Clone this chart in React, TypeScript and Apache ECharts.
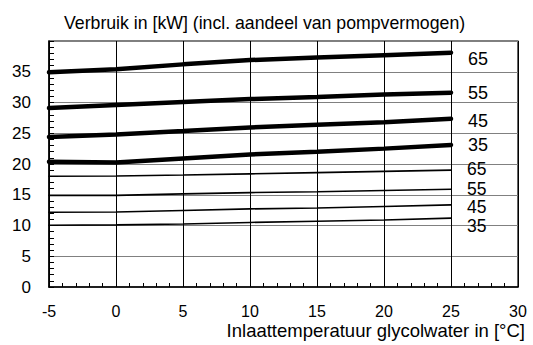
import React, { useEffect, useRef } from "react";
import * as echarts from "echarts";

const xValues = [-5, 0, 5, 10, 15, 20, 25];
const thick65 = [34.9, 35.4, 36.2, 36.9, 37.3, 37.7, 38.1];
const thick55 = [29.1, 29.6, 30.1, 30.55, 30.9, 31.3, 31.6];
const thick45 = [24.4, 24.8, 25.35, 25.95, 26.4, 26.8, 27.35];
const thick35 = [20.35, 20.25, 20.9, 21.55, 22.0, 22.5, 23.1];
const thin65 = [18.0, 18.05, 18.2, 18.4, 18.6, 18.8, 19.0];
const thin55 = [14.9, 14.9, 15.15, 15.35, 15.5, 15.7, 15.9];
const thin45 = [12.15, 12.2, 12.45, 12.7, 12.85, 13.1, 13.35];
const thin35 = [10.05, 10.1, 10.25, 10.5, 10.7, 10.9, 11.2];
const seriesLabels = ["65", "55", "45", "35", "65", "55", "45", "35"];
const yTicks = [0, 5, 10, 15, 20, 25, 30, 35, 40];
const titleText = "Verbruik in [kW] (incl. aandeel van pompvermogen)";
const xName = "Inlaattemperatuur glycolwater in [°C]";

const FONT = "'Liberation Sans', Arial, Helvetica, sans-serif";

export default function App() {
  const ref = useRef<HTMLDivElement>(null);
  useEffect(() => {
    document.body.style.margin = "0";
    if (!ref.current) return;
    const chart = echarts.init(ref.current, null, { renderer: "svg" });
    const all = [thick65, thick55, thick45, thick35, thin65, thin55, thin45, thin35];
    const labelOffsets = [6, 0, 2, 0, -1, -0.5, 2.3, 8];
    const series = all.map((vals, i) => {
      const thick = i < 4;
      return {
        type: "line",
        name: seriesLabels[i] + (thick ? "t" : "n"),
        data: xValues.map((x, j) => [x, vals[j]]),
        showSymbol: false,
        symbol: "none",
        lineStyle: {
          color: "#000",
          width: thick ? 4.5 : 1.6,
          cap: "round",
        },
        endLabel: {
          show: true,
          formatter: () => seriesLabels[i],
          distance: thick ? 17 : 16,
          offset: [0, labelOffsets[i]],
          color: "#000",
          fontFamily: FONT,
          fontSize: thick ? 18 : 17.5,
        },
        z: thick ? 4 : 3,
      };
    });
    chart.setOption({
      animation: false,
      textStyle: { fontFamily: FONT },
      title: {
        text: titleText,
        left: 59,
        top: 9,
        textStyle: { fontFamily: FONT, fontSize: 17.7, fontWeight: "normal", color: "#000" },
      },
      graphic: [
        {
          type: "text",
          right: 8,
          top: 320.5,
          style: {
            text: xName,
            fontFamily: FONT,
            fontSize: 18.5,
            fill: "#000",
          },
        },
      ],
      grid: {
        left: 49,
        right: 15,
        top: 41,
        bottom: 58,
        show: true,
        borderColor: "#000",
        borderWidth: 1.2,
        backgroundColor: "transparent",
      },
      xAxis: {
        type: "value",
        min: -5,
        max: 30,
        interval: 5,
        axisLine: { show: true, onZero: false, lineStyle: { color: "#000", width: 1.5 } },
        axisTick: { show: true, inside: true, length: 4, lineStyle: { color: "#000" } },
        minorTick: { show: true, splitNumber: 5, length: 4, lineStyle: { color: "#000", width: 1 } },
        splitLine: { show: true, lineStyle: { color: "#000", width: 1 } },
        axisLabel: { color: "#000", fontSize: 16, fontFamily: FONT, margin: 16.5 },
      },
      yAxis: {
        type: "value",
        min: yTicks[0],
        max: yTicks[yTicks.length - 1],
        interval: 5,
        axisLine: { show: true, onZero: false, lineStyle: { color: "#000", width: 1.5 } },
        axisTick: { show: true, inside: true, length: 5, lineStyle: { color: "#000" } },
        minorTick: { show: true, splitNumber: 5, length: 5, lineStyle: { color: "#000", width: 1 } },
        splitLine: { show: true, lineStyle: { color: "#808080", width: 1 } },
        axisLabel: {
          color: "#000",
          fontSize: 17,
          fontFamily: FONT,
          margin: 18,
          formatter: (v: number) => (v === 40 ? "" : String(v)),
        },
      },
      series,
    });
    return () => chart.dispose();
  }, []);
  return <div ref={ref} style={{ width: 533, height: 345 }} />;
}
